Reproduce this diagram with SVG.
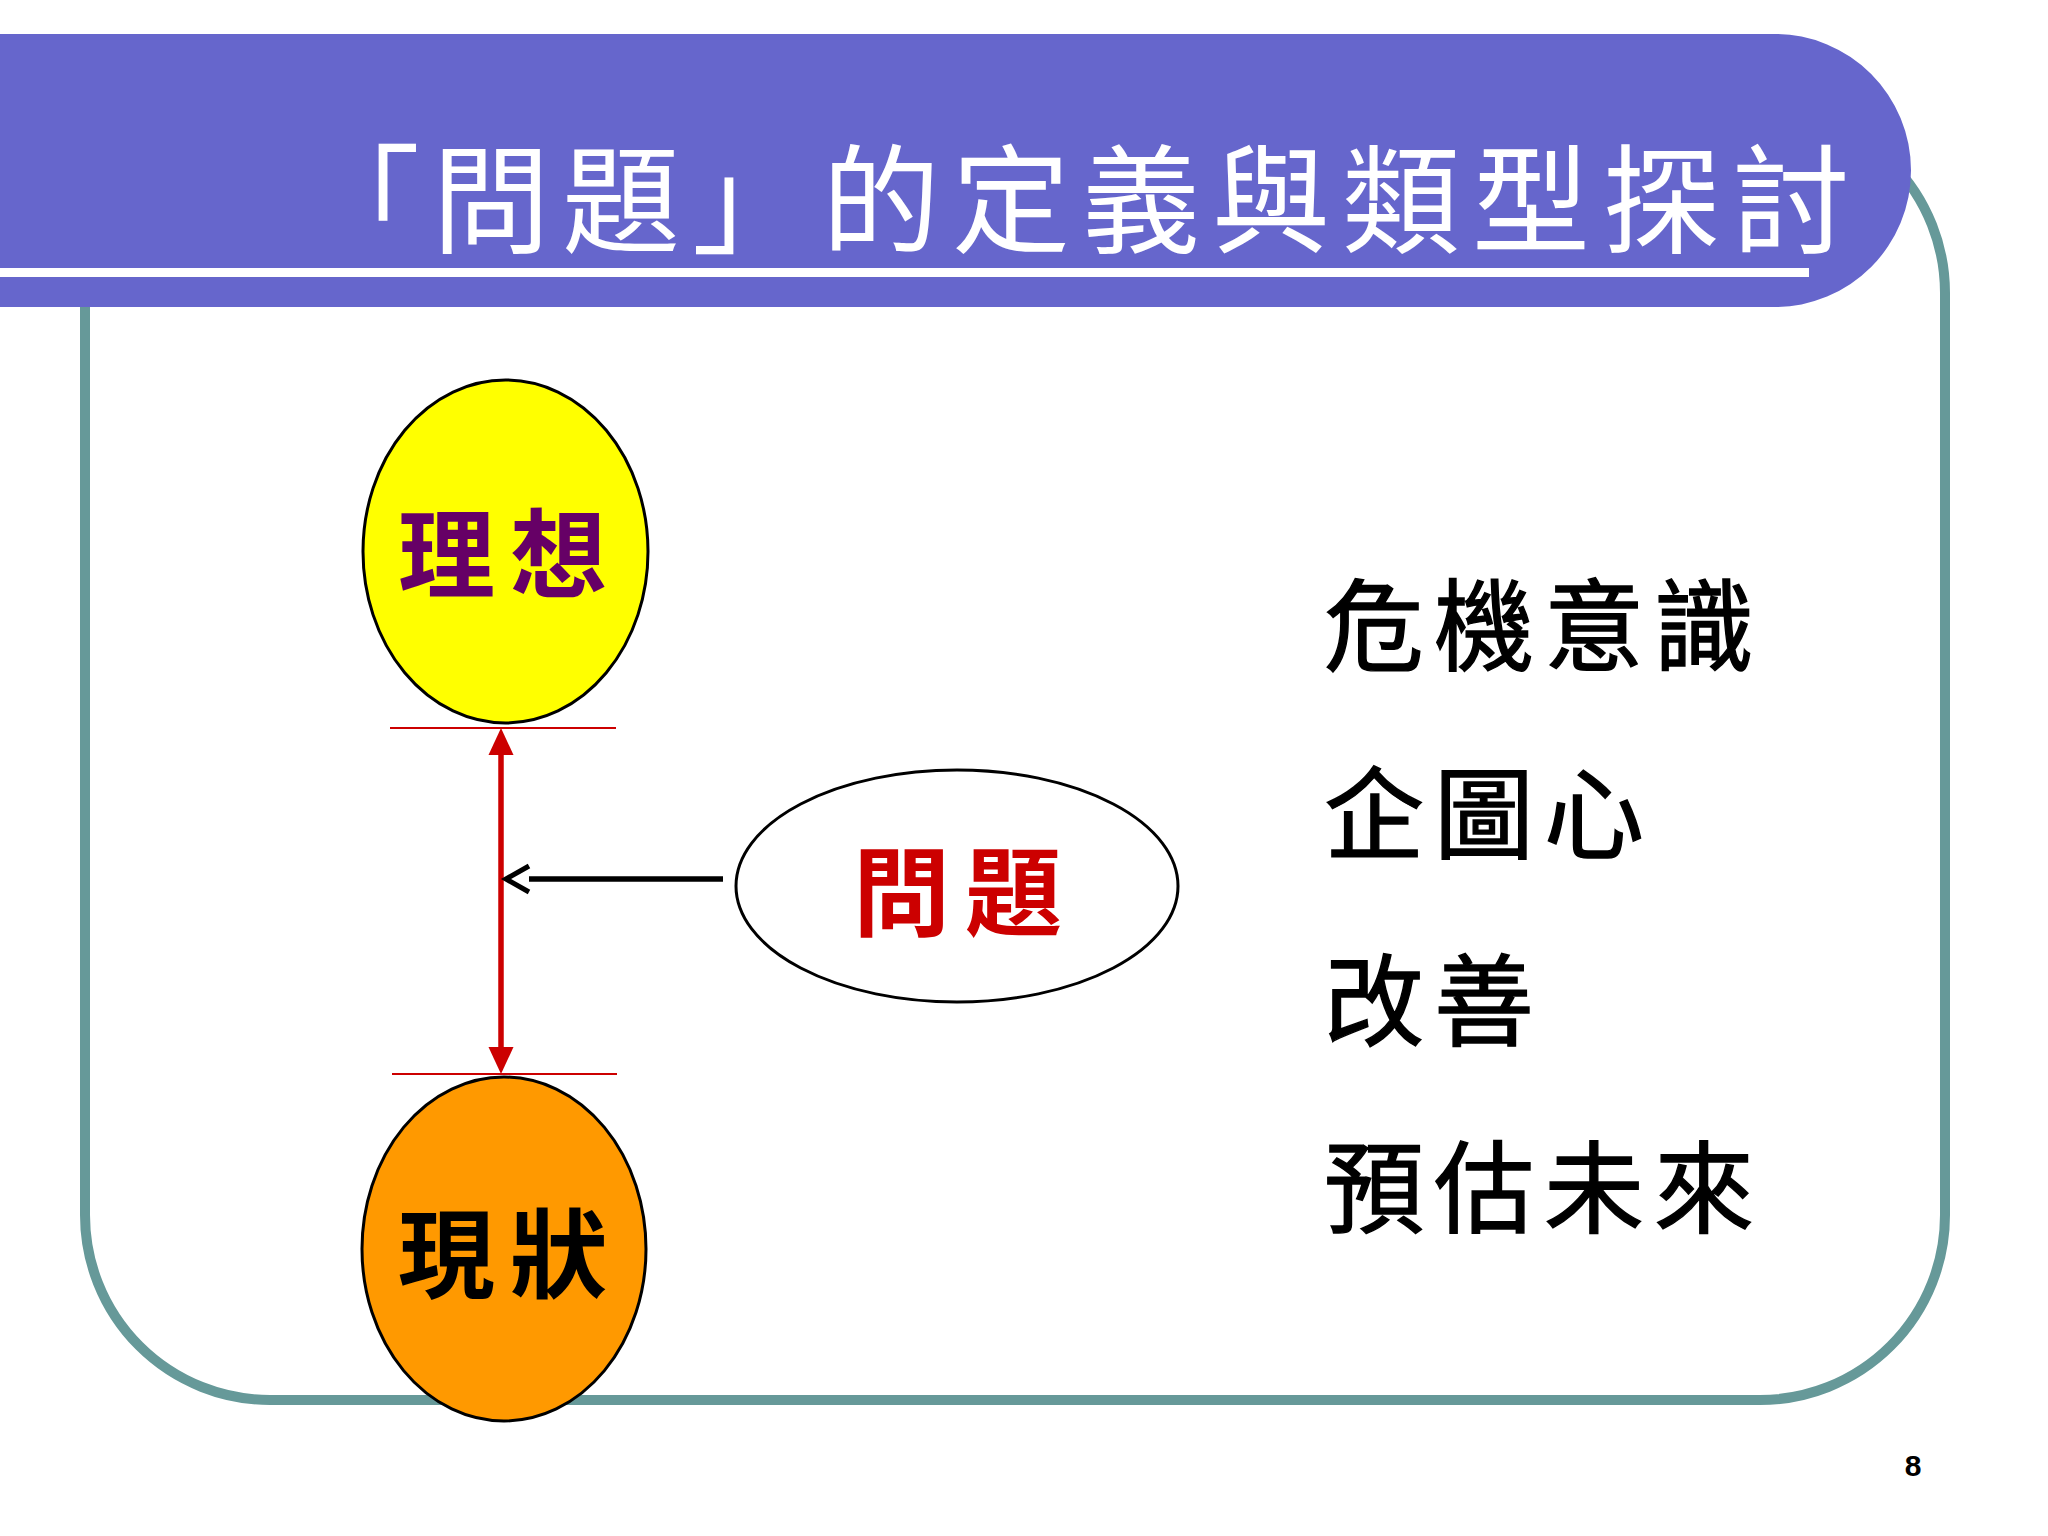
<svg xmlns="http://www.w3.org/2000/svg" width="2048" height="1536" viewBox="0 0 2048 1536">
<style>
.cjk{font-family:"Noto Sans CJK TC","Noto Sans CJK SC",sans-serif}
.title{fill:#ffffff;font-size:118px;letter-spacing:12px}
.label{font-size:97px;font-weight:bold;letter-spacing:15px}
.item{fill:#000000;stroke:#000000;stroke-width:1.4px;font-size:100px;letter-spacing:10px}
.node{stroke:#000000;stroke-width:3}
.guide{stroke:#CC0000;stroke-width:2}
</style>
<defs>
<marker id="redHead" markerUnits="userSpaceOnUse" markerWidth="26" markerHeight="26" refX="0" refY="12.5" orient="auto-start-reverse" overflow="visible">
<path d="M0,0 L27,12.5 L0,25 Z" fill="#CC0000"/>
</marker>
<marker id="openHead" markerUnits="userSpaceOnUse" markerWidth="30" markerHeight="30" refX="0" refY="14" orient="auto" overflow="visible">
<path d="M0,1 L23,14 L0,27" fill="none" stroke="#000000" stroke-width="5"/>
</marker>
</defs>
<rect width="2048" height="1536" fill="#ffffff"/>
<g id="frame">
<rect x="85" y="108" width="1860" height="1292" rx="185" ry="185" fill="none" stroke="#669999" stroke-width="10"/>
</g>
<g id="titlebar">
<path d="M0,34 H1775 A136,136.5 0 0 1 1775,307 H0 Z" fill="#6666CC"/>
<rect x="0" y="268" width="1809" height="9" fill="#ffffff"/>
<text class="cjk title" x="302" y="244">「問題」的定義與類型探討</text>
</g>
<g id="guides">
<line class="guide" x1="390" y1="728" x2="616" y2="728"/>
<line class="guide" x1="392" y1="1074" x2="617" y2="1074"/>
</g>
<g id="node-ideal">
<ellipse class="node" cx="505.5" cy="551.5" rx="142.5" ry="171.5" fill="#FFFF00"/>
<text class="cjk label" x="398" y="590" fill="#660066">理想</text>
</g>
<g id="node-current">
<ellipse class="node" cx="504" cy="1249" rx="142" ry="172" fill="#FF9900"/>
<text class="cjk label" x="398" y="1290" fill="#000000">現狀</text>
</g>
<g id="node-problem">
<ellipse class="node" cx="957" cy="886" rx="221" ry="116" fill="#ffffff"/>
<text class="cjk label" x="853" y="928" fill="#CC0000">問題</text>
</g>
<g id="connectors">
<line x1="501" y1="755" x2="501" y2="1047" stroke="#CC0000" stroke-width="5.5" marker-start="url(#redHead)" marker-end="url(#redHead)"/>
<line x1="723" y1="879" x2="529" y2="879" stroke="#000000" stroke-width="5.5" marker-end="url(#openHead)"/>
</g>
<g id="list">
<text class="cjk item" x="1324" y="663">危機意識</text>
<text class="cjk item" x="1324" y="851">企圖心</text>
<text class="cjk item" x="1324" y="1038">改善</text>
<text class="cjk item" x="1324" y="1225">預估未來</text>
</g>
<text x="1913" y="1476" text-anchor="middle" font-family="Liberation Sans, Arial, sans-serif" font-weight="bold" font-size="30" fill="#000000">8</text>
</svg>
